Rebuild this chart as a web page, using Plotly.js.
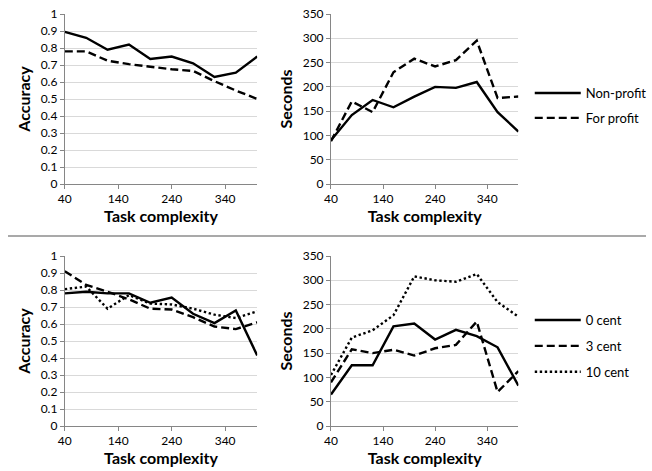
<!DOCTYPE html>
<html>
<head>
<meta charset="utf-8">
<script src="https://cdn.plot.ly/plotly-3.0.1.min.js"></script>
<style>html,body{margin:0;padding:0;background:#fff}#chart{width:652px;height:471px}</style>
</head>
<body>
<div id="chart"></div>
<script>
const complexity = [40, 80, 120, 160, 200, 240, 280, 320, 360, 400];
const xTicks = [40, 140, 240, 340];

// Top row: organisation type
const accNonProfit = [0.895, 0.86, 0.79, 0.82, 0.735, 0.75, 0.71, 0.63, 0.655, 0.75];
const accForProfit = [0.78, 0.78, 0.725, 0.705, 0.69, 0.675, 0.665, 0.605, 0.55, 0.50];
const secNonProfit = [90, 142, 173, 158, 180, 200, 198, 210, 148, 108];
const secForProfit = [88, 170, 148, 230, 258, 242, 255, 295, 177, 180];

// Bottom row: payment
const acc0 = [0.78, 0.79, 0.78, 0.78, 0.725, 0.755, 0.66, 0.605, 0.68, 0.415];
const acc3 = [0.91, 0.83, 0.79, 0.745, 0.69, 0.685, 0.64, 0.585, 0.57, 0.61];
const acc10 = [0.805, 0.82, 0.69, 0.77, 0.72, 0.715, 0.69, 0.655, 0.635, 0.675];
const sec0 = [65, 125, 125, 205, 211, 178, 198, 185, 162, 83];
const sec3 = [90, 158, 150, 157, 145, 160, 167, 215, 70, 113];
const sec10 = [105, 182, 197, 228, 308, 300, 297, 313, 255, 225];

const labelsTop = ["Non-profit", "For profit"];
const labelsBottom = ["0 cent", "3 cent", "10 cent"];

const FONT = "Lato, 'Open Sans', sans-serif";
const lw = 2.4;
const DASH = "8px,4px", DOT = "2.4px,2.6px";
function tr(y, xa, ya, name, dash, legend, show) {
  return {x: complexity, y: y, xaxis: xa, yaxis: ya, name: name, type: "scatter", mode: "lines",
    line: {color: "#000", width: lw, dash: dash}, legend: legend, legendgroup: legend + name, showlegend: show};
}
const data = [
  tr(accNonProfit, "x", "y", labelsTop[0], "solid", "legend", false),
  tr(accForProfit, "x", "y", labelsTop[1], DASH, "legend", false),
  tr(secNonProfit, "x2", "y2", labelsTop[0], "solid", "legend", true),
  tr(secForProfit, "x2", "y2", labelsTop[1], DASH, "legend", true),
  tr(acc0, "x3", "y3", labelsBottom[0], "solid", "legend2", false),
  tr(acc3, "x3", "y3", labelsBottom[1], DASH, "legend2", false),
  tr(acc10, "x3", "y3", labelsBottom[2], DOT, "legend2", false),
  tr(sec0, "x4", "y4", labelsBottom[0], "solid", "legend2", true),
  tr(sec3, "x4", "y4", labelsBottom[1], DASH, "legend2", true),
  tr(sec10, "x4", "y4", labelsBottom[2], DOT, "legend2", true)
];

const W = 652, H = 471;
const colL = [65 / W, 258 / W], colR = [332 / W, 520 / W];
const rowT = [(H - 184) / H, (H - 14) / H], rowB = [(H - 426) / H, (H - 256) / H];

function xax(domain, anchor) {
  return {domain: domain, anchor: anchor, range: [40, 400], tickvals: xTicks, ticks: "outside", ticklen: 4,
    tickcolor: "#868686", showline: true, linecolor: "#868686", linewidth: 1, showgrid: false, zeroline: false,
    tickfont: {size: 12, color: "#000", family: FONT},
    title: {text: "<b>Task complexity</b>", font: {size: 16, family: FONT, color: "#000"}, standoff: 5}};
}
function yax(domain, anchor, range, dtick, title) {
  return {domain: domain, anchor: anchor, range: range, dtick: dtick, ticks: "outside", ticklen: 4,
    tickcolor: "#868686", showline: true, linecolor: "#868686", linewidth: 1, showgrid: true,
    gridcolor: "#d9d9d9", gridwidth: 1, zeroline: false,
    tickfont: {size: 12, color: "#000", family: FONT},
    title: {text: "<b>" + title + "</b>", font: {size: 16, family: FONT, color: "#000"}, standoff: 6}};
}

const layout = {
  width: W, height: H, margin: {l: 0, r: 0, t: 0, b: 0},
  paper_bgcolor: "#fff", plot_bgcolor: "#fff",
  font: {family: FONT, color: "#000"},
  xaxis: xax(colL, "y"), yaxis: Object.assign(yax(rowT, "x", [0, 1], 0.1, "Accuracy"), {tickformat: ".1~f"}),
  xaxis2: xax(colR, "y2"), yaxis2: yax(rowT, "x2", [0, 350], 50, "Seconds"),
  xaxis3: xax(colL, "y3"), yaxis3: Object.assign(yax(rowB, "x3", [0, 1], 0.1, "Accuracy"), {tickformat: ".1~f"}),
  xaxis4: xax(colR, "y4"), yaxis4: yax(rowB, "x4", [0, 350], 50, "Seconds"),
  legend: {x: 0.815, y: (H - 78) / H, xanchor: "left", yanchor: "top", bgcolor: "rgba(0,0,0,0)",
    font: {size: 13, family: FONT, color: "#000"}, tracegroupgap: 5, itemwidth: 46},
  legend2: {x: 0.815, y: (H - 305) / H, xanchor: "left", yanchor: "top", bgcolor: "rgba(0,0,0,0)",
    font: {size: 13, family: FONT, color: "#000"}, tracegroupgap: 6, itemwidth: 46},
  shapes: [{type: "line", xref: "paper", yref: "paper", x0: 8 / W, x1: 648 / W, y0: (H - 236) / H, y1: (H - 236) / H,
    line: {color: "#8c8c8c", width: 1.5}}]
};

Plotly.newPlot("chart", data, layout, {staticPlot: true, displayModeBar: false});
</script>
</body>
</html>
